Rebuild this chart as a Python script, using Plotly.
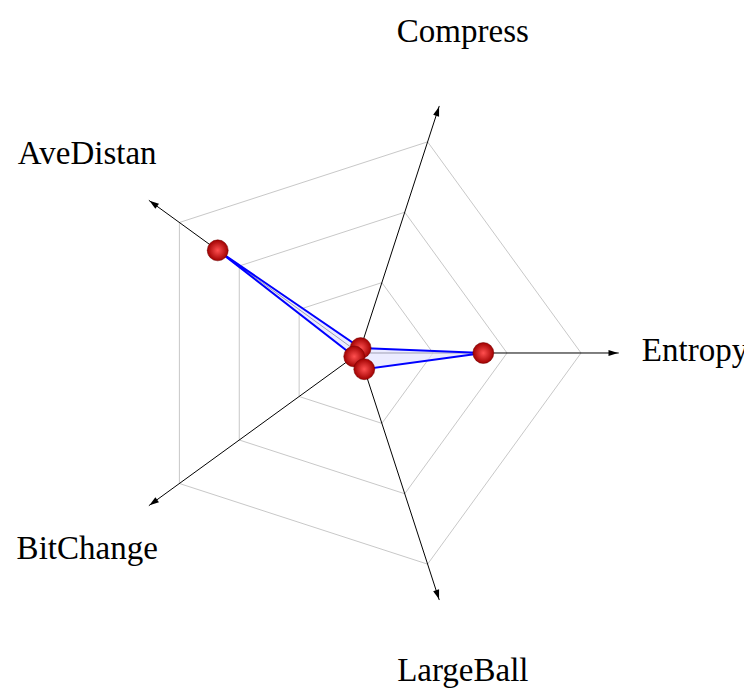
import plotly.graph_objects as go

# eixos do radar (ordem anti-horaria a partir da direita)
categorias = ["Entropy", "Compress", "AveDistan", "BitChange", "LargeBall"]
valores = [1.68, 0.07, 2.36, 0.08, 0.23]
niveis = [1, 2, 3]

r_seta = 3.56    # fim das setas
r_escala = 4.54  # alcance do eixo radial
r_rotulo = 4.54  # posicao dos nomes dos eixos

# angulo de cada seta (categoria i fica a 72*i graus)
angulos_seta = [90 - 72 * i for i in range(len(categorias))]

fig = go.Figure()

# raios (eixos pretos)
raio_r, raio_t = [], []
for c in categorias:
    raio_r += [0, r_seta - 0.05, None]
    raio_t += [c, c, None]
fig.add_trace(
    go.Scatterpolar(
        r=raio_r, theta=raio_t, mode="lines",
        line=dict(color="black", width=1), hoverinfo="skip",
    )
)

# poligono dos dados (fechado)
fig.add_trace(
    go.Scatterpolar(
        r=valores + valores[:1],
        theta=categorias + categorias[:1],
        mode="lines",
        fill="toself",
        fillcolor="rgba(228,228,255,0.7)",
        line=dict(color="#0000ff", width=2),
        hoverinfo="skip",
    )
)

# setas nas pontas dos eixos
fig.add_trace(
    go.Scatterpolar(
        r=[r_seta - 0.06] * len(categorias),
        theta=categorias,
        mode="markers",
        marker=dict(symbol="arrow", size=10, color="black", angle=angulos_seta, line=dict(width=0)),
        hoverinfo="skip",
    )
)

# esferas vermelhas
fig.add_trace(
    go.Scatterpolar(
        r=valores,
        theta=categorias,
        mode="markers",
        marker=dict(
            size=21,
            color="#a00000",
            gradient=dict(type="radial", color="#ff5050"),
            line=dict(color="#700000", width=0.5),
        ),
    )
)

# nomes dos eixos
fig.add_trace(
    go.Scatterpolar(
        r=[r_rotulo] * len(categorias),
        theta=categorias,
        mode="text",
        text=categorias,
        textposition="middle center",
        textfont=dict(family="Liberation Serif", size=33, color="black"),
        cliponaxis=False,
        hoverinfo="skip",
    )
)

fig.update_layout(
    width=752,
    height=688,
    margin=dict(l=0, r=0, t=0, b=0),
    paper_bgcolor="white",
    showlegend=False,
    polar=dict(
        domain=dict(x=[0.01995, 0.9136], y=[0.0102, 0.9869]),
        bgcolor="white",
        gridshape="linear",
        radialaxis=dict(
            range=[0, r_escala],
            tickvals=niveis,
            showticklabels=False,
            ticks="",
            showline=False,
            gridcolor="#c8c8c8",
            gridwidth=1,
        ),
        angularaxis=dict(
            type="category",
            categoryarray=categorias,
            rotation=0,
            direction="counterclockwise",
            showline=False,
            showticklabels=False,
            ticks="",
            showgrid=False,
        ),
    ),
)

fig.write_html("out.html")
